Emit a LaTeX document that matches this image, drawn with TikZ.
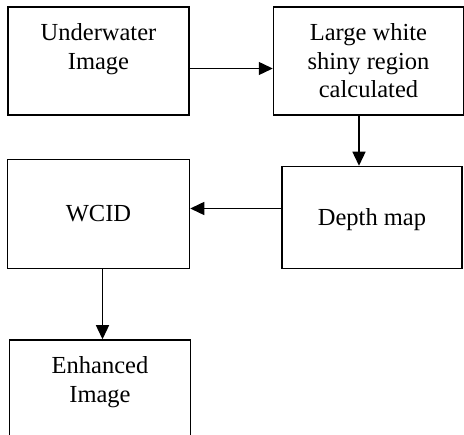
\documentclass[tikz,border=0pt]{standalone}
\usepackage{fontspec}
\setmainfont{Liberation Serif}
\usetikzlibrary{arrows.meta, positioning}
\newcommand{\toplines}[1]{\parbox[c][80pt][t]{170pt}{\centering\strut #1}}

\begin{document}
\begin{tikzpicture}[x=1pt, y=-1pt,
    blk/.style={rectangle, draw=black, line width=1.5pt, minimum width=#1,
                minimum height=108pt, inner sep=0pt, align=center,
                font=\fontsize{24.5}{28.5}\selectfont},
    arrow/.style={-{Triangle[length=14pt, width=13pt]}, line width=1.4pt}
  ]
    \useasboundingbox (0,0) rectangle (464,435);
    \clip (0,0) rectangle (464,435);

    \node[blk=181pt] (uw) at (98.5,61) {\toplines{Underwater\\Image}};
    \node[blk=190pt, right=83pt of uw] (shiny) {Large white\\shiny region\\calculated};
    \node[blk=180pt, minimum height=102pt, text depth=0pt, below=50pt of shiny, xshift=3.5pt] (depth) {Depth map};
    \node[blk=182pt, minimum height=109pt, left=91pt of depth, yshift=3.5pt] (wcid) {WCID};
    \node[blk=181pt, below=70pt of wcid, xshift=1.5pt] (enh) {\toplines{Enhanced\\Image}};

    \draw[arrow] ([yshift=-7.5pt]uw.east) -- ([yshift=-7.5pt]uw.east -| shiny.west);
    \draw[arrow] ([xshift=-9.5pt]shiny.south) -- ([xshift=-9.5pt]shiny.south |- depth.north);
    \draw[arrow] ([yshift=9pt]depth.west) -- ([yshift=9pt]depth.west -| wcid.east);
    \draw[arrow] ([xshift=4pt]wcid.south) -- ([xshift=4pt]wcid.south |- enh.north);
  \end{tikzpicture}
\end{document}
